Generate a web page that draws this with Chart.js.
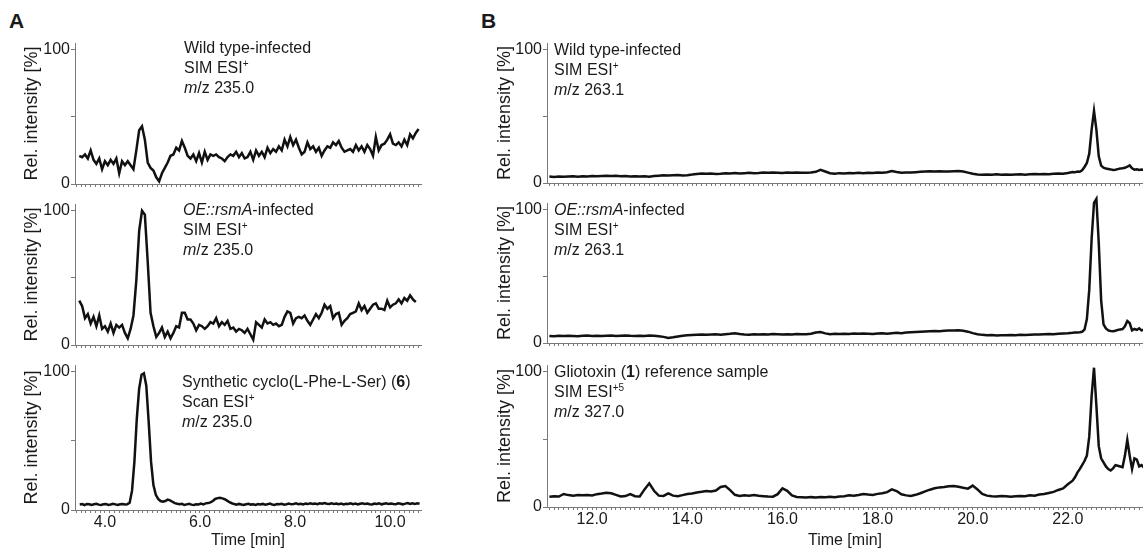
<!DOCTYPE html>
<html>
<head>
<meta charset="utf-8">
<title>LC-MS chromatograms</title>
<script src="https://cdn.jsdelivr.net/npm/chart.js@4.4.1/dist/chart.umd.min.js"></script>
<style>
  html, body { margin: 0; padding: 0; background: #fff; overflow: hidden; }
  body { width: 1143px; height: 550px; position: relative; font-family: "Liberation Sans", Arial, sans-serif; color: #1a1a1a; }
  canvas { position: absolute; }
  .panel-letter { position: absolute; font-size: 21px; font-weight: bold; }
  .note { position: absolute; font-size: 16px; line-height: 20px; white-space: nowrap; z-index: 2; }
  .note sup { font-size: 10px; vertical-align: 6px; line-height: 0; }
</style>
</head>
<body>
<div class="panel-letter" style="left:9px;top:9px">A</div>
<div class="panel-letter" style="left:481px;top:9px">B</div>

<div class="note" style="left:184px;top:38px">Wild type-infected<br>SIM ESI<sup>+</sup><br><i>m</i>/z 235.0</div>
<div class="note" style="left:183px;top:200px"><i>OE::rsmA</i>-infected<br>SIM ESI<sup>+</sup><br><i>m</i>/z 235.0</div>
<div class="note" style="left:182px;top:372px">Synthetic cyclo(L-Phe-L-Ser) (<b>6</b>)<br>Scan ESI<sup>+</sup><br><i>m</i>/z 235.0</div>
<div class="note" style="left:554px;top:40px">Wild type-infected<br>SIM ESI<sup>+</sup><br><i>m</i>/z 263.1</div>
<div class="note" style="left:554px;top:200px"><i>OE::rsmA</i>-infected<br>SIM ESI<sup>+</sup><br><i>m</i>/z 263.1</div>
<div class="note" style="left:554px;top:362px">Gliotoxin (<b>1</b>) reference sample<br>SIM ESI<sup>+5</sup><br><i>m</i>/z 327.0</div>

<canvas id="aTop"></canvas>
<canvas id="aMid"></canvas>
<canvas id="aBot"></canvas>
<canvas id="bTop"></canvas>
<canvas id="bMid"></canvas>
<canvas id="bBot"></canvas>

<script>
// sampling of the traces (min)
const aStart = 3.46, aStep = 0.06;
const aScanStart = 3.47, aScanStep = 0.05;
const bStart = 11.1, bStep = 0.1, bCoarseCount = 111;
const bFineStart = 22.15, bFineStep = 0.05;

// panel A, m/z 235.0
const aWildType = [
  21, 20, 22, 19, 25, 18, 15, 19, 11, 17,
  14, 18, 15, 19, 8, 17, 14, 17, 14, 11,
  25, 40, 43, 33, 16, 12, 10, 5, 2, 8,
  12, 16, 21, 22, 27, 25, 32, 27, 21, 19,
  22, 17, 23, 16, 24, 18, 22, 21, 22, 20,
  19, 17, 20, 22, 21, 24, 20, 23, 19, 20,
  24, 18, 25, 21, 24, 20, 27, 23, 26, 24,
  28, 25, 33, 28, 35, 29, 33, 27, 22, 24,
  31, 26, 28, 24, 27, 21, 25, 28, 27, 31,
  29, 32, 27, 24, 25, 26, 24, 29, 25, 28,
  24, 29, 26, 21, 35, 25, 29, 30, 33, 37,
  30, 29, 31, 28, 33, 29, 37, 34, 38, 41
];
const aRsmA = [
  33, 29, 20, 23, 16, 21, 14, 22, 12, 14,
  10, 16, 9, 15, 13, 15, 9, 5, 12, 22,
  48, 85, 100, 97, 62, 24, 14, 6, 9, 13,
  6, 10, 5, 9, 14, 13, 24, 24, 19, 19,
  16, 11, 15, 14, 12, 14, 17, 16, 20, 14,
  17, 15, 18, 12, 13, 10, 12, 11, 9, 12,
  8, 4, 17, 15, 13, 19, 16, 17, 15, 16,
  14, 15, 21, 25, 24, 16, 20, 21, 20, 22,
  18, 15, 19, 23, 20, 24, 30, 27, 29, 20,
  23, 24, 15, 18, 20, 23, 24, 25, 31, 26,
  29, 24, 27, 30, 31, 27, 27, 26, 33, 28,
  30, 31, 34, 31, 35, 33, 37, 34, 32
];
const aSynthetic = [
  4, 4.3, 3.6, 4.4, 4.1, 3.7, 4.2, 4.5, 3.9, 3.6, 4.1, 4.4, 3.7, 4.0, 4.5, 4.1, 3.6, 4.2, 4.4, 4.0, 4.2, 5.2,
  14, 35, 66, 88, 98, 99, 90, 64, 35, 18, 11, 8, 6.5, 6, 6.5, 7.5, 7, 6, 5, 4.5,
  4.2, 4.5, 3.6, 4.1, 4.5, 3.9, 3.6, 4.2, 4.0, 4.6, 4.1, 4.8,
  5.0, 5.5, 6.5, 8.0, 8.6, 8.8, 8.4, 7.8, 6.8, 5.6, 4.9,
  4.3, 3.8, 4.4, 4.0, 3.6, 4.2, 4.5, 3.9, 4.1, 3.7,
  4.3, 4.0, 4.4, 3.8, 4.2, 4.6, 4.0, 3.7, 4.3, 4.1,
  4.5, 3.9, 4.2, 4.6, 4.1, 4.4, 4.8, 4.2, 4.5, 4.0,
  4.6, 4.3, 4.9, 4.4, 4.7, 4.2, 4.8, 4.5, 5.1, 4.6,
  4.4, 4.9, 4.3, 4.7, 4.2, 4.6, 4.0, 4.5, 4.3, 4.8,
  4.2, 4.6, 4.1, 4.5, 4.9, 4.3, 4.7, 4.2, 4.0, 4.6,
  4.4, 4.8, 4.1, 4.5, 4.9, 4.3, 4.7, 4.4, 4.2, 4.8,
  4.5, 4.1, 4.6, 5.0, 4.4, 4.8, 4.3, 4.9, 4.5
];

// panel B, first 111 values every 0.1 min, then every 0.05 min
const bWildType = [
  4.8, 4.5, 4.9, 4.6, 4.8, 5.0, 4.7, 5.1, 4.9, 5.2,
  5.0, 5.3, 5.5, 5.2, 5.4, 5.0, 5.3, 4.9, 5.1, 4.8,
  5.0, 4.7, 5.2, 5.5, 5.8, 5.6, 5.9, 6.0, 5.7, 5.9,
  6.3, 6.8, 7.2, 6.9, 7.1, 6.8, 7.0, 7.3, 7.1, 7.5,
  7.2, 7.4, 7.6, 7.3, 7.5, 7.8, 7.6, 7.9, 7.7, 7.5,
  7.8, 7.6, 7.9, 7.7, 7.6, 7.9, 8.4, 9.8, 8.6, 7.3,
  6.9, 7.4, 7.2, 7.5, 7.3, 7.6, 7.4, 7.7, 7.5, 7.8,
  7.7, 8.1, 8.9, 8.2, 7.7, 7.9, 7.8, 8.1, 8.4, 8.6,
  8.8, 8.6, 8.9, 8.7, 8.6, 8.9, 9.0, 8.6, 7.8, 6.9,
  6.3, 6.1, 6.4, 6.2, 6.5, 6.2, 6.4, 6.1, 6.3, 6.5,
  6.2, 6.5, 6.7, 6.5, 6.8, 6.6, 7.0, 7.2, 7.0, 7.5,
  8.3,
  8.0, 8.6, 8.4, 9.5, 12, 15, 22, 40, 54, 40,
  20, 13, 11.5, 10.8, 10.5, 10.2, 9.8, 10.0, 10.4, 10.8,
  11.0, 11.4, 12.2, 13.2, 11.0, 10.0, 10.3, 9.8, 10.1, 9.9
];
const bRsmA = [
  5.3, 5.0, 5.4, 5.2, 5.5, 5.3, 5.1, 5.4, 5.6, 5.3,
  5.5, 5.2, 5.4, 5.6, 5.3, 5.5, 5.7, 5.4, 5.2, 5.5,
  5.3, 5.6, 5.4, 5.1, 4.6, 3.8, 4.3, 4.9, 5.4, 5.8,
  6.0, 6.2, 6.4, 6.1, 6.3, 6.5, 6.2, 6.6, 6.9, 7.3,
  6.8, 6.4, 6.2, 6.5, 6.3, 6.6, 6.4, 6.7, 6.5, 6.3,
  6.6, 6.4, 6.7, 6.5, 6.6, 6.9, 7.8, 8.2, 7.2, 6.6,
  6.9, 6.7, 7.0, 6.8, 7.1, 6.9, 7.2, 7.0, 6.8, 7.1,
  7.3, 7.0, 7.4, 7.6, 7.4, 7.8, 8.0, 8.2, 8.4, 8.6,
  8.8, 9.0, 8.9, 9.2, 9.4, 9.3, 9.6, 9.2, 8.5, 7.4,
  6.6, 6.1, 5.8, 6.0, 5.7, 5.9, 5.8, 6.0, 5.8, 6.1,
  6.0, 6.2, 6.4, 6.3, 6.5, 6.7, 6.6, 6.9, 7.1, 7.3,
  7.6,
  7.8, 7.9, 8.1, 8.4, 10, 18, 40, 78, 105, 108,
  75, 32, 14, 11, 9.5, 9.0, 8.8, 9.2, 9.8, 10.2,
  10.5, 12.5, 16.5, 15, 9.5, 10.5, 9.8, 11.0, 9.5, 9.8
];
const bGliotoxin = [
  7.6, 7.9, 7.7, 9.6, 8.8, 8.4, 8.9, 8.6, 8.8, 8.5,
  9.5, 10.0, 10.6, 10.2, 9.0, 7.8, 8.1, 9.6, 8.0, 7.8,
  13.0, 17.5, 12.0, 8.4, 8.2, 10.0, 8.4, 7.9, 8.8, 9.6,
  10.0, 10.7, 11.2, 11.8, 11.4, 12.2, 14.8, 15.5, 12.5, 9.0,
  8.2, 8.6, 8.4, 8.8, 8.3, 8.0, 7.7, 7.6, 9.5, 13.8,
  12.0, 8.5, 7.4, 7.2, 7.0, 7.3, 7.1, 7.4, 7.2, 7.5,
  7.3, 7.8, 8.0, 8.6, 8.3, 8.9, 9.6, 9.2, 8.9, 9.7,
  10.2, 11.0, 13.0, 11.8, 9.4, 8.6, 8.2, 9.0, 10.2, 11.6,
  12.8, 13.8, 14.5, 14.8, 15.3, 15.6, 15.0, 14.2, 13.6, 15.8,
  13.0, 9.6, 8.4, 8.0, 7.8, 8.2, 7.9, 7.6, 7.9, 8.2,
  8.0, 8.6, 8.4, 9.2, 9.6, 10.4, 11.2, 12.6, 13.8, 16.8,
  19.5,
  22, 25.4, 28, 31, 34, 38, 52, 82, 103, 75,
  45, 36, 33, 30, 28, 27, 28.5, 31, 30.5, 30,
  29.5, 38, 49.6, 38, 28, 36, 35, 30, 31, 29
];

const aTimeLabels = ['4.0', '6.0', '8.0', '10.0'];
const bTimeLabels = ['12.0', '14.0', '16.0', '18.0', '20.0', '22.0'];
const yTickValues = [0, 50, 100];
const yTickLabels = ['0', '', '100'];

const textColor = '#1a1a1a';
const axisColor = '#7a7a7a';
const fontFamily = '"Liberation Sans", Arial, sans-serif';

function uniformPoints(values, start, step) {
  return values.map((y, i) => ({ x: +(start + i * step).toFixed(3), y }));
}

function panelBPoints(values) {
  return values.map((y, i) => {
    const x = i < bCoarseCount
      ? bStart + i * bStep
      : bFineStart + (i - bCoarseCount) * bFineStep;
    return { x: +x.toFixed(3), y };
  });
}

function makeChart(id, box, points, axis) {
  const canvas = document.getElementById(id);
  canvas.width = box.w;
  canvas.height = box.h;
  canvas.style.left = box.x + 'px';
  canvas.style.top = box.y + 'px';

  const labels = axis.showLabels ? axis.labels : [];

  new Chart(canvas, {
    type: 'line',
    data: {
      datasets: [{
        label: id,
        data: points,
        borderColor: '#111',
        borderWidth: 2.5,
        pointRadius: 0,
        tension: 0,
        clip: false
      }]
    },
    options: {
      responsive: false,
      animation: false,
      events: [],
      layout: { padding: { top: 12, right: axis.padRight, bottom: axis.showLabels ? 0 : 10, left: 0 } },
      plugins: { legend: { display: false }, tooltip: { enabled: false } },
      scales: {
        x: {
          type: 'linear',
          min: axis.min,
          max: axis.max,
          afterBuildTicks: (scale) => {
            const ticks = [];
            for (let t = Math.ceil(axis.min * 10); t <= Math.floor(axis.max * 10); t++) {
              ticks.push({ value: t / 10 });
            }
            scale.ticks = ticks;
          },
          afterFit: (scale) => { scale.height = axis.showLabels ? axis.height : 4; },
          ticks: {
            autoSkip: false,
            maxRotation: 0,
            padding: 0,
            color: textColor,
            font: { family: fontFamily, size: 16 },
            callback: (value) => labels.find(l => Math.abs(parseFloat(l) - value) < 1e-6) || ''
          },
          grid: { drawOnChartArea: false, drawTicks: true, tickLength: 3, tickColor: axisColor, tickWidth: 1 },
          border: { display: true, color: axisColor, width: 1 },
          title: {
            display: axis.showLabels,
            text: 'Time [min]',
            color: textColor,
            padding: 0,
            font: { family: fontFamily, size: 16 }
          }
        },
        y: {
          min: 0,
          max: 105,
          afterBuildTicks: (scale) => { scale.ticks = yTickValues.map(v => ({ value: v })); },
          afterFit: (scale) => { scale.width = axis.yWidth; },
          ticks: {
            padding: 1,
            color: textColor,
            font: { family: fontFamily, size: 16 },
            callback: (value) => yTickLabels[yTickValues.indexOf(value)] ?? ''
          },
          grid: { drawOnChartArea: false, drawTicks: true, tickLength: 4, tickColor: axisColor },
          border: { display: true, color: axisColor, width: 1 },
          title: {
            display: true,
            text: 'Rel. intensity [%]',
            color: textColor,
            padding: 0,
            font: { family: fontFamily, size: 18 }
          }
        }
      }
    }
  });
}

const axisA = { min: 3.37, max: 10.65, labels: aTimeLabels, yWidth: 53, padRight: 4, height: 40 };
const axisB = { min: 11.05, max: 23.58, labels: bTimeLabels, yWidth: 52, padRight: 0, height: 43 };

makeChart('aTop', { x: 21, y: 31, w: 404, h: 167 }, uniformPoints(aWildType, aStart, aStep), { ...axisA, yWidth: 54, showLabels: false });
makeChart('aMid', { x: 21, y: 192, w: 404, h: 167 }, uniformPoints(aRsmA, aStart, aStep), { ...axisA, yWidth: 54, showLabels: false });
makeChart('aBot', { x: 21, y: 353, w: 404, h: 197 }, uniformPoints(aSynthetic, aScanStart, aScanStep), { ...axisA, yWidth: 54, showLabels: true });

makeChart('bTop', { x: 494, y: 31, w: 649, h: 166 }, panelBPoints(bWildType), { ...axisB, yWidth: 53, showLabels: false });
makeChart('bMid', { x: 494, y: 191, w: 649, h: 166 }, panelBPoints(bRsmA), { ...axisB, yWidth: 53, showLabels: false });
makeChart('bBot', { x: 494, y: 353, w: 649, h: 197 }, panelBPoints(bGliotoxin), { ...axisB, yWidth: 53, showLabels: true });
</script>
</body>
</html>
